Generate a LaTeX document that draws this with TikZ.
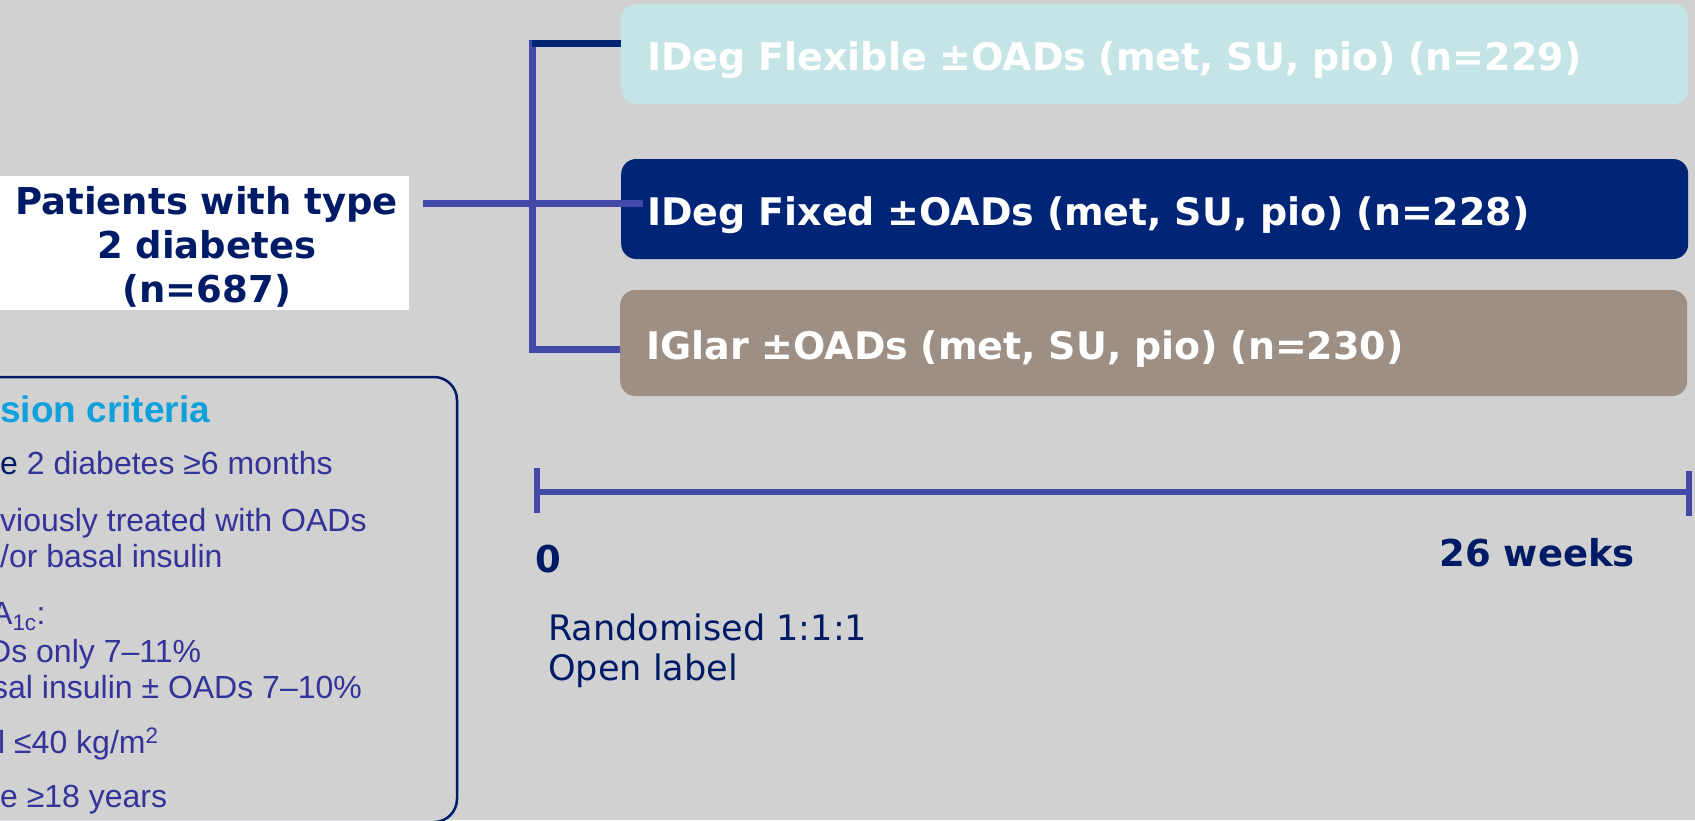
\documentclass[tikz,border=0pt]{standalone}
\usepackage{fontspec}
\newfontfamily\verdana{DejaVu Sans}
\newfontfamily\arial{Liberation Sans}
\usetikzlibrary{positioning}
\usetikzlibrary{calc}

\definecolor{bg}{RGB}{209,209,209}
\definecolor{flexcol}{RGB}{196,228,230}
\definecolor{fixcol}{RGB}{0,37,118}
\definecolor{glarcol}{RGB}{157,143,131}
\definecolor{linkcol}{RGB}{67,73,168}
\definecolor{navy}{RGB}{0,27,102}
\definecolor{critcol}{RGB}{51,51,154}
\definecolor{headcol}{RGB}{16,160,220}

\begin{document}
\begin{tikzpicture}[x=1pt, y=-1pt,
    arm/.style={rounded corners=15pt, text=white, inner xsep=26pt, text width=1015pt, text height=36pt, text depth=4pt,
        align=left, font=\verdana\bfseries\fontsize{38}{44}\selectfont},
    link/.style={draw=linkcol, line width=7pt},
    lbl/.style={anchor=base west, inner sep=0pt, text=navy},
    crit/.style={anchor=base west, inner sep=0pt, text=critcol, font=\arial\fontsize{32}{37}\selectfont}]
\useasboundingbox[fill=bg] (0,0) rectangle (1695,820);

% treatment arms
\path
    node[arm, fill=flexcol, minimum height=100pt, anchor=west] (flex) at (621,54) {IDeg Flexible ±OADs (met, SU, pio) (n=229)}
    node[arm, fill=fixcol, minimum height=100pt, anchor=west] (fixed) at (621,209) {IDeg Fixed ±OADs (met, SU, pio) (n=228)}
    node[arm, fill=glarcol, minimum height=106pt, anchor=west] (glar) at (620,343) {IGlar ±OADs (met, SU, pio) (n=230)};

\node[fill=white, minimum width=409pt, minimum height=134pt, inner sep=0pt, anchor=north west] (pat) at (0,176) {};
\node[align=center, inner sep=0pt, text=navy, font=\verdana\bfseries\fontsize{37}{44}\selectfont]
    (pattext) at ([xshift=2pt, yshift=-4pt]pat.center) {Patients with type\\2 diabetes\\(n=687)};

% randomisation bracket
\coordinate (top) at (532,43);
\coordinate (bot) at (532,349);
\coordinate (split) at (532,203);
\draw[link, line cap=rect] (top) -- (bot);
\draw[draw=fixcol, line width=7pt] (top) -- (top -| flex.west);
\draw[link] (bot) -- (bot -| glar.west);
\draw[link] ($(pat.east |- split)+(14,0)$) -- ($(split -| fixed.west)+(22,0)$);

% time line
\coordinate (t0) at (537,492);
\coordinate (t26) at (1689,492);
\draw[link, line width=6pt] (t0) -- (t26);
\draw[link, line width=6pt] ($(t0)+(0,-24)$) -- ($(t0)+(0,21)$);
\draw[link, line width=6pt] ($(t26)+(0,-21)$) -- ($(t26)+(0,24)$);
\node[lbl, font=\verdana\bfseries\fontsize{37}{44}\selectfont] (zero) at (535,572) {0};
\node[lbl, anchor=base east, font=\verdana\bfseries\fontsize{37}{44}\selectfont] (weeks) at (1635,566) {26 weeks};
\node[lbl, font=\verdana\fontsize{35.1}{40}\selectfont] (rand) at (548,640) {Randomised 1:1:1};
\node[lbl, font=\verdana\fontsize{35.1}{40}\selectfont] (open) at ([yshift=-40pt]rand.base west) {Open label};

% inclusion criteria
\draw[draw=navy, line width=2.5pt, rounded corners=23pt] (-30,377) rectangle (457,822);
\node[crit, text=headcol, font=\arial\bfseries\fontsize{37}{44}\selectfont] (head) at (0,422) {sion criteria};
\node[crit] (c1) at (0,474) {\textcolor{navy}{e} 2 diabetes ≥6 months};
\node[crit] (c2) at (0,531) {viously treated with OADs};
\node[crit] (c3) at (0,567) {/or basal insulin};
\node[crit] (c4) at (-9,624) {A\textsubscript{1c}:};
\node[crit] (c5) at (-12,662) {Ds only 7–11\%};
\node[crit] (c6) at (-8,698) {sal insulin ± OADs 7–10\%};
\node[crit] (c7) at (-2,753) {l ≤40 kg/m\textsuperscript{2}};
\node[crit] (c8) at (0,807) {e ≥18 years};
\end{tikzpicture}
\end{document}
